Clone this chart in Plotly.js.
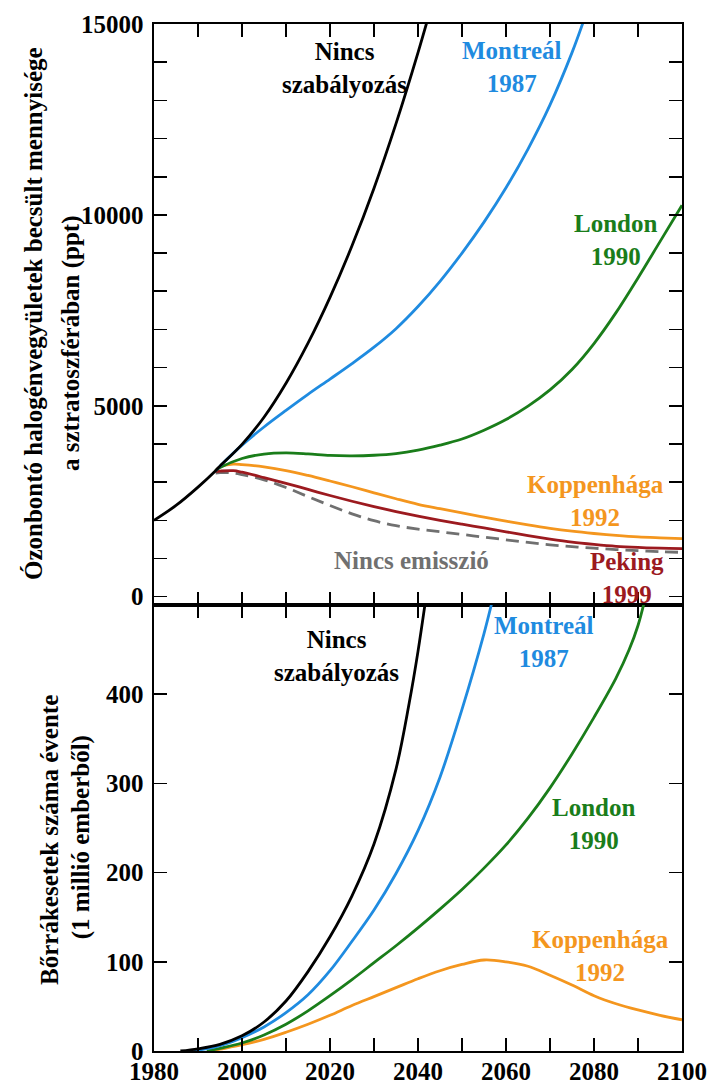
<!DOCTYPE html>
<html>
<head>
<meta charset="utf-8">
<script src="https://cdn.plot.ly/plotly-3.0.1.min.js"></script>
<style>html,body{margin:0;padding:0;background:#fff;}#chart{width:707px;height:1084px;}</style>
</head>
<body>
<div id="chart"></div>
<script>
// ---- Top panel: halogen loading (ppt) ----
const yearsNoRegTop = [1980,1985,1990,1994,1995,2000,2005,2010,2015,2020,2025,2030,2035,2040,2043];
const noRegTop      = [2000,2390,2870,3300,3420,3990,4700,5590,6640,7840,9190,10700,12390,14250,15450];

const yearsMontrealTop = [1994,1995,2000,2005,2010,2015,2020,2025,2030,2035,2040,2045,2050,2055,2060,2065,2070,2075,2078];
const montrealTop      = [3300,3420,3970,4445,4880,5300,5700,6105,6535,7020,7600,8260,9000,9810,10710,11725,12880,14250,15200];

const yearsLondonTop = [1994,1995,2000,2005,2010,2015,2020,2025,2030,2035,2040,2045,2050,2055,2060,2065,2070,2075,2080,2085,2090,2095,2100];
const londonTop      = [3300,3380,3620,3735,3765,3740,3700,3690,3705,3750,3840,3970,4130,4360,4640,4990,5415,5950,6630,7440,8350,9300,10250];

const yearsLateTop = [1994,1995,1998,2000,2005,2010,2015,2020,2025,2030,2035,2040,2045,2050,2055,2060,2065,2070,2075,2080,2085,2090,2095,2100];
const copenhagenTop = [3300,3400,3470,3460,3400,3305,3175,3030,2880,2720,2565,2420,2305,2195,2085,1980,1880,1790,1715,1655,1605,1565,1540,1520];
const beijingTop    = [3280,3290,3300,3260,3120,2970,2810,2650,2500,2360,2230,2110,2000,1900,1800,1700,1600,1510,1430,1370,1320,1290,1270,1260];
const zeroEmisTop   = [3240,3250,3240,3200,3060,2860,2620,2390,2170,1990,1860,1770,1700,1630,1560,1490,1420,1360,1310,1270,1235,1205,1180,1160];

// ---- Bottom panel: skin cancer cases per year (per million) ----
const yearsNoRegBot = [1986,1990,1995,2000,2005,2010,2015,2020,2025,2030,2035,2038,2040,2042];
const noRegBot      = [0,2.5,7.5,17,32.5,56,89,128,174,232,316,390,448,515];

const yearsMontrealBot = [1989,1995,2000,2005,2010,2015,2020,2025,2030,2035,2040,2045,2050,2055,2057];
const montrealBot      = [0,6,15,27,43,63,90,123,158,199,247,307,383,468,507];

const yearsLondonBot = [1992,1995,2000,2005,2010,2015,2020,2025,2030,2035,2040,2045,2050,2055,2060,2065,2070,2075,2080,2085,2088,2090,2092];
const londonBot      = [0,3,9,18,30,45,62,80,99,118,138,159,181,205,231,261,295,333,374,418,450,477,515];

const yearsCopenhagenBot = [1993,1995,2000,2005,2010,2015,2020,2025,2030,2035,2040,2045,2050,2055,2060,2065,2070,2075,2080,2085,2090,2095,2100];
const copenhagenBot      = [0,2,7,13,21,30,40,51,61,71,81,90,97,102,100,95,85,74,62,53,46,40,35];

// ---- Labels ----
const topTitle1 = "Ózonbontó halogénvegyületek becsült mennyisége";
const topTitle2 = "a sztratoszférában (ppt)";
const botTitle1 = "Bőrrákesetek száma évente";
const botTitle2 = "(1 millió emberből)";
const xTickVals = [1980,2000,2020,2040,2060,2080,2100];
const xTickText = ["1980","2000","2020","2040","2060","2080","2100"];
const yTopTickVals = [0,5000,10000,15000];
const yTopTickText = ["0","5000","10000","15000"];
const yBotTickVals = [0,100,200,300,400];
const yBotTickText = ["0","100","200","300","400"];

const C = {black:'#000000', blue:'#1f8be0', green:'#1a7d1a', orange:'#f4961e', red:'#9c1a1f', gray:'#707070'};
const FONT = 'Liberation Serif';

function line(x, y, color, xa, ya, dash, w) {
  return {x:x, y:y, xaxis:xa, yaxis:ya, type:'scatter', mode:'lines', hoverinfo:'skip',
    line:{color:color, width:w||2.8, dash:dash||'solid', shape:'spline', smoothing:1}};
}

const data = [
  line(yearsLateTop, zeroEmisTop, C.gray, 'x', 'y', '13px,7px', 2.8),
  line(yearsLateTop, beijingTop, C.red, 'x', 'y'),
  line(yearsLateTop, copenhagenTop, C.orange, 'x', 'y'),
  line(yearsLondonTop, londonTop, C.green, 'x', 'y'),
  line(yearsMontrealTop, montrealTop, C.blue, 'x', 'y'),
  line(yearsNoRegTop, noRegTop, C.black, 'x', 'y'),
  line(yearsCopenhagenBot, copenhagenBot, C.orange, 'x2', 'y2'),
  line(yearsLondonBot, londonBot, C.green, 'x2', 'y2'),
  line(yearsMontrealBot, montrealBot, C.blue, 'x2', 'y2'),
  line(yearsNoRegBot, noRegBot, C.black, 'x2', 'y2')
];

const tickFont = {family:FONT, size:25, color:'#000', weight:'bold'};
const axisCommon = {showline:true, linecolor:'#000', linewidth:1.6, ticks:'inside', ticklen:13, tickwidth:1.6,
  tickcolor:'#000', mirror:'ticks', showgrid:false, zeroline:false, tickfont:tickFont};
const minorX = {dtick:10, tick0:1980, ticks:'inside', ticklen:13, tickwidth:1.6, tickcolor:'#000'};

const split = 0.4343;

function ann(text, x, y, color, xref, yref) {
  return {text:text, x:x, y:y, xref:xref, yref:yref, showarrow:false, xanchor:'center', yanchor:'middle',
    font:{family:FONT, size:25, color:color, weight:'bold'}, align:'center'};
}
function titleAnn(text, px, py) {
  return {text:text, x:px, y:py, xref:'paper', yref:'paper', showarrow:false, textangle:-90,
    xanchor:'center', yanchor:'middle', font:{family:FONT, size:25, color:'#000', weight:'bold'}};
}

const layout = {
  width:707, height:1084,
  margin:{l:154, r:25, t:24, b:33, pad:0},
  paper_bgcolor:'#fff', plot_bgcolor:'#fff',
  showlegend:false,
  font:{family:FONT, color:'#000'},
  xaxis: Object.assign({}, axisCommon, {anchor:'y', range:[1980,2100], tickvals:xTickVals, ticktext:xTickText, showticklabels:false,
    minor:minorX}),
  yaxis: Object.assign({}, axisCommon, {domain:[split,1], range:[-217,15000], tickvals:yTopTickVals, ticktext:yTopTickText, ticklabelstandoff:4,
    minor:{dtick:1000, tick0:0, ticks:'inside', ticklen:13, tickwidth:1.6, tickcolor:'#000'}}),
  xaxis2: Object.assign({}, axisCommon, {anchor:'y2', range:[1980,2100], tickvals:xTickVals, ticktext:xTickText, ticklabelstandoff:-3,
    minor:minorX}),
  yaxis2: Object.assign({}, axisCommon, {domain:[0,split], range:[0,500], tickvals:yBotTickVals, ticktext:yBotTickText, ticklabelstandoff:4}),
  annotations: [
    ann('Nincs<br>szabályozás', 2023.2, 13850, C.black, 'x', 'y'),
    ann('Montreál<br>1987', 2061.3, 13870, C.blue, 'x', 'y'),
    ann('London<br>1990', 2084.9, 9350, C.green, 'x', 'y'),
    ann('Koppenhága<br>1992', 2080.4, 2500, C.orange, 'x', 'y'),
    ann('Nincs emisszió', 2038.5, 960, C.gray, 'x', 'y'),
    ann('Peking<br>1999', 2087.5, 500, C.red, 'x', 'y'),
    ann('Nincs<br>szabályozás', 2021.4, 443, C.black, 'x2', 'y2'),
    ann('Montreál<br>1987', 2068.7, 458, C.blue, 'x2', 'y2'),
    ann('London<br>1990', 2079.8, 254, C.green, 'x2', 'y2'),
    ann('Koppenhága<br>1992', 2081.5, 107, C.orange, 'x2', 'y2'),
    titleAnn(topTitle1, -0.2282, 0.7181),
    titleAnn(topTitle2, -0.1572, 0.6894),
    titleAnn(botTitle1, -0.197, 0.2055),
    titleAnn(botTitle2, -0.1369, 0.2079)
  ]
};

Plotly.newPlot('chart', data, layout, {staticPlot:true, displayModeBar:false});
</script>
</body>
</html>
